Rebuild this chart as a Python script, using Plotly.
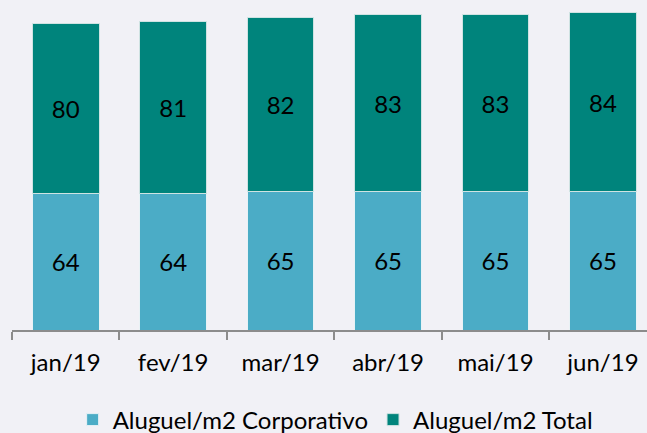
import plotly.graph_objects as go

meses = ["jan/19", "fev/19", "mar/19", "abr/19", "mai/19", "jun/19"]
corporativo = [64, 64, 65, 65, 65, 65]
total = [80, 81, 82, 83, 83, 84]

bg = "#F1F1F6"
font_fam = "Lato, 'Open Sans', sans-serif"

fig = go.Figure()
fig.add_trace(go.Bar(
    x=meses, y=corporativo, name="Aluguel/m2 Corporativo",
    marker=dict(color="#4BACC6", line=dict(color="#E8F2F5", width=1)),
    text=[str(v) for v in corporativo], textposition="inside",
    insidetextanchor="middle", textangle=0,
    textfont=dict(size=24, color="#000000", family=font_fam),
))
fig.add_trace(go.Bar(
    x=meses, y=total, name="Aluguel/m2 Total",
    marker=dict(color="#00847C", line=dict(color="#CFE3E2", width=1)),
    text=[str(v) for v in total], textposition="inside",
    insidetextanchor="middle", textangle=0,
    textfont=dict(size=24, color="#000000", family=font_fam),
))

fig.update_layout(
    barmode="stack",
    bargap=0.38,
    width=647, height=433,
    margin=dict(l=12, r=0, t=0, b=103),
    paper_bgcolor=bg, plot_bgcolor=bg,
    font=dict(family=font_fam, color="#000000", size=24),
    showlegend=True,
    legend=dict(
        orientation="h", xref="container", yref="container",
        x=0.518, xanchor="center", y=0.03, yanchor="middle",
        font=dict(size=24, color="#000000"), itemwidth=30,
        traceorder="normal", bgcolor="rgba(0,0,0,0)",
    ),
    xaxis=dict(
        type="category", range=[-0.5, 5.41],
        showline=True, linecolor="#8C8C8C", linewidth=1.5,
        ticks="outside", tickson="boundaries", ticklen=8,
        tickcolor="#8C8C8C", tickwidth=1.5,
        ticklabelstandoff=10,
        showgrid=False, tickfont=dict(size=24, color="#000000"),
        fixedrange=True,
    ),
    yaxis=dict(
        range=[0, 155], visible=False, showgrid=False, zeroline=False,
        fixedrange=True,
    ),
)

fig.write_html(
    "out.html",
    config={"displayModeBar": False},
    post_script="document.body.style.margin='0';document.body.style.background='%s';" % bg,
)
